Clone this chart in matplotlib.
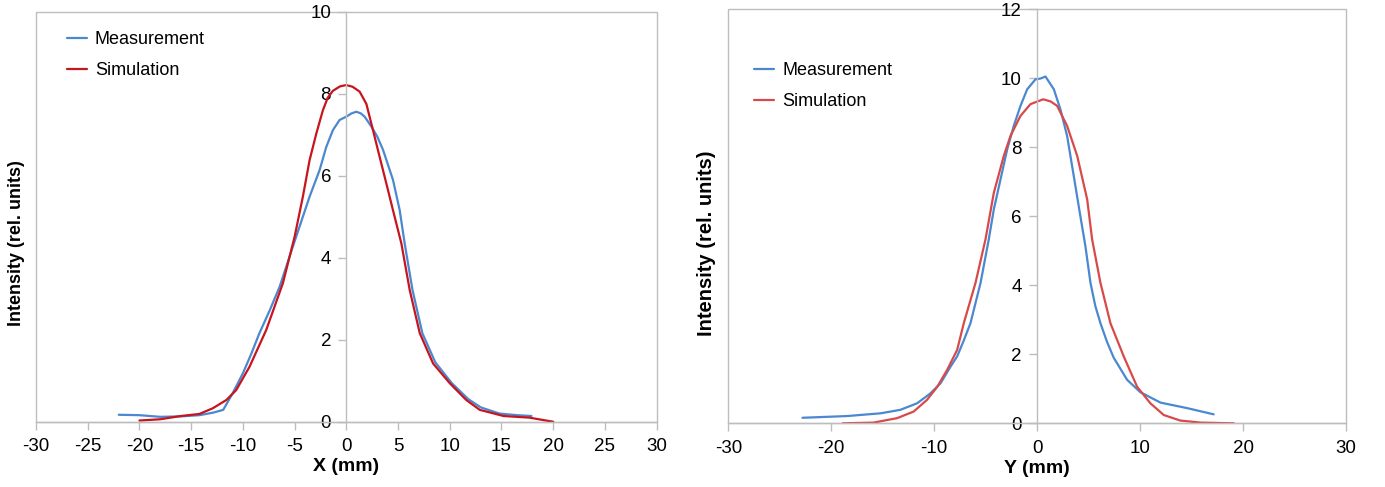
import matplotlib
matplotlib.use("Agg")
import matplotlib.pyplot as plt
from matplotlib.patches import Rectangle

plt.rcParams['font.family'] = ['Liberation Sans', 'DejaVu Sans']
plt.rcParams['axes.unicode_minus'] = False

# ---- Left panel (X profile) ----
x_meas_x = [-22, -20, -18, -16, -14.2, -12.9, -11.9, -11.0, -10.0, -9.2, -8.4, -7.4, -6.45, -5.17, -4.52, -3.55, -2.58, -1.94,
            -1.3, -0.65, 0, 0.5, 0.97, 1.4, 1.77, 2.42, 3.0, 3.55, 4.51, 5.16, 5.64, 6.4, 7.35, 8.6, 10.2, 11.8, 13.0, 14.8, 16.5, 17.9]
y_meas_x = [0.17, 0.16, 0.12, 0.13, 0.16, 0.22, 0.29, 0.69, 1.18, 1.65, 2.16, 2.72, 3.29, 4.27, 4.76, 5.49, 6.14, 6.7,
            7.11, 7.36, 7.44, 7.52, 7.56, 7.52, 7.44, 7.2, 6.95, 6.63, 5.9, 5.16, 4.35, 3.21, 2.16, 1.45, 0.94, 0.55, 0.35, 0.2, 0.16, 0.14]
x_sim_x = [-20, -18, -16, -14.2, -12.9, -11.6, -10.65, -9.36, -7.74, -6.13, -5.0, -4.2, -3.55, -2.9, -2.26, -1.8, -1.3, -0.6, 0,
           0.6, 1.29, 1.94, 2.58, 3.22, 3.87, 4.51, 5.32, 6.13, 7.1, 8.39, 10.0, 11.6, 12.9, 15.2, 17.7, 20]
y_sim_x = [0.03, 0.06, 0.14, 0.19, 0.33, 0.53, 0.77, 1.34, 2.24, 3.38, 4.51, 5.49, 6.38, 7.03, 7.6, 7.9, 8.07, 8.18, 8.21,
           8.17, 8.05, 7.75, 7.11, 6.46, 5.81, 5.16, 4.35, 3.21, 2.16, 1.42, 0.94, 0.53, 0.29, 0.14, 0.1, 0.0]

# ---- Right panel (Y profile) ----
x_meas_y = [-22.8, -18.46, -15.2, -13.3, -11.66, -10.36, -9.39, -8.42, -7.77, -7.13, -6.48, -5.5, -4.7, -4.21, -3.56, -2.91,
            -2.27, -1.62, -0.97, -0.16, 0.3, 0.81, 1.62, 2.26, 2.91, 3.56, 4.2, 4.69, 5.18, 5.65, 6.15, 6.8, 7.44, 8.74, 10.03,
            11.98, 14.57, 17.15]
y_meas_y = [0.16, 0.21, 0.29, 0.39, 0.58, 0.87, 1.16, 1.64, 1.94, 2.4, 2.9, 4.07, 5.33, 6.2, 7.07, 7.94,
            8.62, 9.2, 9.68, 9.97, 9.99, 10.05, 9.68, 9.1, 8.33, 7.16, 6.0, 5.13, 4.07, 3.4, 2.9, 2.35, 1.9, 1.26, 0.9,
            0.6, 0.44, 0.26]
x_sim_y = [-18.9, -15.9, -13.6, -12.0, -10.7, -9.7, -8.74, -7.77, -7.13, -5.99, -5.02, -4.21, -3.24, -2.59, -1.62, -0.65,
           0.58, 1.3, 1.94, 2.91, 3.89, 4.86, 5.34, 6.15, 7.12, 8.41, 9.71, 11.0, 12.3, 13.9, 15.9, 19.1]
y_sim_y = [0.0, 0.02, 0.15, 0.34, 0.68, 1.06, 1.55, 2.13, 2.9, 4.07, 5.33, 6.68, 7.75, 8.33, 8.91, 9.25,
           9.39, 9.33, 9.2, 8.62, 7.75, 6.49, 5.33, 4.07, 2.9, 1.94, 1.06, 0.58, 0.24, 0.08, 0.02, 0.0]

x_ticks = [-30, -25, -20, -15, -10, -5, 0, 5, 10, 15, 20, 25, 30]
x_ticks_right = [-30, -20, -10, 0, 10, 20, 30]
y_ticks_left = [0, 2, 4, 6, 8, 10]
y_ticks_right = [0, 2, 4, 6, 8, 10, 12]

blue = '#4a88d0'
red_left = '#c8141e'
red_right = '#d84a4a'
frame = '#bdbdbd'

fig = plt.figure(figsize=(13.85, 4.87), dpi=100)
axL = fig.add_axes([0.026, 0.134, 0.4481, 0.842])
axR = fig.add_axes([0.5259, 0.1308, 0.4459, 0.8502])


def style(ax, xt, yt, ylim):
    ax.set_xlim(-30, 30)
    ax.set_ylim(*ylim)
    ax.set_xticks(xt)
    ax.set_yticks(yt)
    for s in ['top', 'right']:
        ax.spines[s].set_visible(False)
    ax.spines['left'].set_position(('data', 0))
    ax.spines['left'].set_color(frame)
    ax.spines['bottom'].set_color(frame)
    ax.spines['left'].set_linewidth(1.0)
    ax.spines['bottom'].set_linewidth(1.0)
    ax.add_patch(Rectangle((0, 0), 1, 1, transform=ax.transAxes, fill=False,
                           edgecolor=frame, linewidth=1.0, zorder=0.5, clip_on=False))
    ax.tick_params(axis='both', colors=frame, labelcolor='black', labelsize=13.5,
                   length=6, width=1.0, direction='out', pad=6)
    ax.tick_params(axis='y', pad=5)


lkw = dict(lw=1.6, solid_joinstyle='round', solid_capstyle='round')
axL.plot(x_meas_x, y_meas_x, color=blue, label='Measurement', **lkw)
axL.plot(x_sim_x, y_sim_x, color=red_left, label='Simulation', **lkw)
style(axL, x_ticks, y_ticks_left, (0, 10))
axL.set_xlabel('X (mm)', fontsize=14, fontweight='bold', labelpad=2)
axL.set_ylabel('Intensity (rel. units)', fontsize=13, fontweight='bold')
axL.legend(loc='upper left', bbox_to_anchor=(0.0237, 0.992), frameon=False, fontsize=13,
           handlelength=1.1, handletextpad=0.45, labelspacing=0.78)

axR.plot(x_meas_y, y_meas_y, color=blue, label='Measurement', **lkw)
axR.plot(x_sim_y, y_sim_y, color=red_right, label='Simulation', **lkw)
style(axR, x_ticks_right, y_ticks_right, (0, 12))
axR.set_xlabel('Y (mm)', fontsize=14, fontweight='bold', labelpad=2)
axR.set_ylabel('Intensity (rel. units)', fontsize=14.5, fontweight='bold')
axR.legend(loc='upper left', bbox_to_anchor=(0.0157, 0.911), frameon=False, fontsize=13,
           handlelength=1.1, handletextpad=0.45, labelspacing=0.78)

axL.yaxis.set_label_coords(17 / 1385, 0.5, transform=fig.transFigure)
axR.yaxis.set_label_coords(707 / 1385, 0.5, transform=fig.transFigure)
axL.yaxis.label.set_verticalalignment('center')
axR.yaxis.label.set_verticalalignment('center')

fig.savefig('out.png', dpi=100)
